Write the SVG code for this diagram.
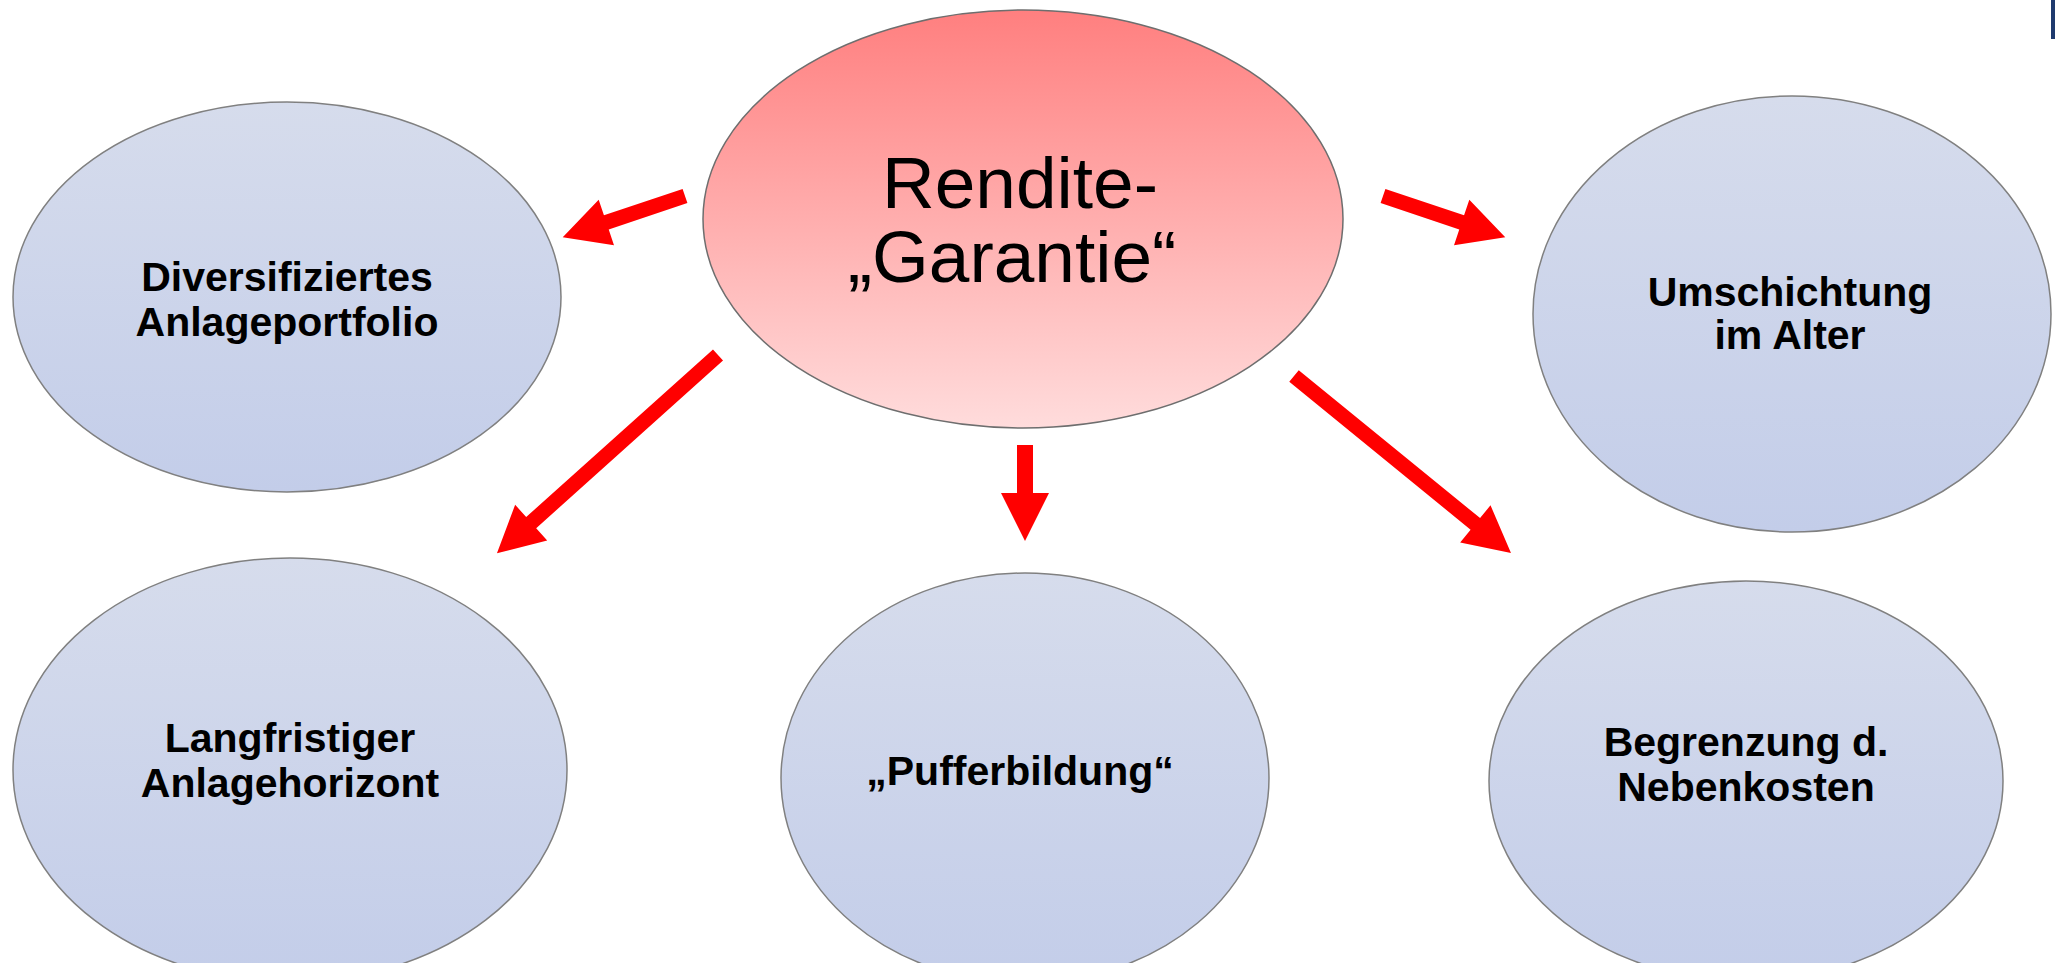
<svg xmlns="http://www.w3.org/2000/svg" width="2055" height="963" viewBox="0 0 2055 963">
<style>
.blue{fill:url(#gBlue);stroke:#808080;stroke-width:1.5}
.red{fill:url(#gRed);stroke:#6e6e6e;stroke-width:1.5}
.lbl{font-family:"Liberation Sans",Arial,sans-serif;font-weight:bold;font-size:41px;fill:#000;text-anchor:middle}
.big{font-family:"Liberation Sans",Arial,sans-serif;font-size:73px;fill:#000;text-anchor:middle}
.arr{fill:#ff0000;stroke:none}
</style>
<defs>
<linearGradient id="gBlue" x1="0" y1="0" x2="0" y2="1">
<stop offset="0" stop-color="#d6dcec"/>
<stop offset="1" stop-color="#c3cde9"/>
</linearGradient>
<linearGradient id="gRed" x1="0" y1="0" x2="0" y2="1">
<stop offset="0" stop-color="#ff7f7f"/>
<stop offset="1" stop-color="#ffdcdc"/>
</linearGradient>
</defs>
<rect x="0" y="0" width="2055" height="963" fill="#ffffff"/>
<rect x="2051" y="0" width="4" height="39" fill="#1f3a6e"/>

<g id="node-diversifiziert">
<ellipse class="blue" cx="287" cy="297" rx="274" ry="195"/>
<text class="lbl" x="287" y="291">Diversifiziertes</text>
<text class="lbl" x="287" y="336">Anlageportfolio</text>
</g>
<g id="node-umschichtung">
<ellipse class="blue" cx="1792" cy="314" rx="259" ry="218"/>
<text class="lbl" x="1790" y="306">Umschichtung</text>
<text class="lbl" x="1790" y="349">im Alter</text>
</g>
<g id="node-langfristig">
<ellipse class="blue" cx="290" cy="770" rx="277" ry="212"/>
<text class="lbl" x="290" y="752">Langfristiger</text>
<text class="lbl" x="290" y="797">Anlagehorizont</text>
</g>
<g id="node-puffer">
<ellipse class="blue" cx="1025" cy="778" rx="244" ry="205"/>
<text class="lbl" x="1020" y="785">„Pufferbildung“</text>
</g>
<g id="node-begrenzung">
<ellipse class="blue" cx="1746" cy="781" rx="257" ry="200"/>
<text class="lbl" x="1746" y="756">Begrenzung d.</text>
<text class="lbl" x="1746" y="801">Nebenkosten</text>
</g>
<g id="node-rendite">
<ellipse class="red" cx="1023" cy="219" rx="320" ry="209"/>
<text class="big" x="1020" y="208">Rendite-</text>
<text class="big" x="1012" y="282">„Garantie“</text>
</g>

<g id="connectors">
<path class="arr" transform="translate(685,196) rotate(161.4)" d="M0,-7.5 L83,-7.5 L83,-24 L129,0 L83,24 L83,7.5 L0,7.5 Z"/>
<path class="arr" transform="translate(718,355) rotate(138.1)" d="M0,-7.5 L251,-7.5 L251,-24 L297,0 L251,24 L251,7.5 L0,7.5 Z"/>
<path class="arr" transform="translate(1025,445) rotate(90)" d="M0,-8 L48,-8 L48,-24 L96,0 L48,24 L48,8 L0,8 Z"/>
<path class="arr" transform="translate(1383,196) rotate(18.6)" d="M0,-7.5 L83,-7.5 L83,-24 L129,0 L83,24 L83,7.5 L0,7.5 Z"/>
<path class="arr" transform="translate(1294,376) rotate(39.2)" d="M0,-7.5 L234,-7.5 L234,-24 L280,0 L234,24 L234,7.5 L0,7.5 Z"/>
</g>
</svg>
